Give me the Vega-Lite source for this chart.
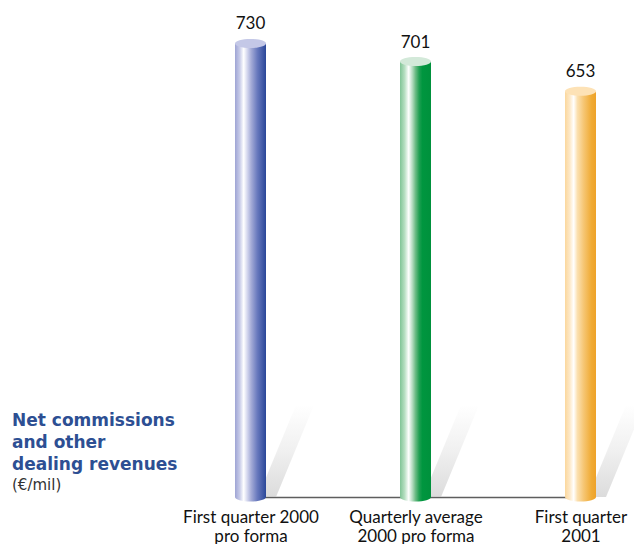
{
  "$schema": "https://vega.github.io/schema/vega-lite/v6.json",
  "autosize": {"type": "none"},
  "padding": {"left": 12, "top": 0, "right": 0, "bottom": 47},
  "width": 622,
  "height": 497,
  "background": "white",
  "title": {
    "text": ["Net commissions", "and other", "dealing revenues"],
    "subtitle": "(€/mil)",
    "anchor": "start",
    "orient": "top",
    "frame": "group",
    "dy": 498,
    "font": "DejaVu Sans",
    "fontSize": 17,
    "fontWeight": "bold",
    "color": "#2d4f93",
    "lineHeight": 22,
    "subtitleFont": "DejaVu Sans",
    "subtitleFontSize": 15,
    "subtitleColor": "#333333",
    "subtitlePadding": 4
  },
  "config": {"view": {"stroke": null}},
  "data": {
    "values": [
      {"period": "First quarter 2000 pro forma", "value": 730},
      {"period": "Quarterly average 2000 pro forma", "value": 701},
      {"period": "First quarter 2001", "value": 653}
    ]
  },
  "encoding": {
    "x": {
      "field": "period",
      "type": "nominal",
      "sort": null,
      "scale": {"type": "point", "range": [238.5, 568.5], "padding": 0},
      "axis": {
        "title": null,
        "ticks": false,
        "domain": true,
        "domainColor": "#5e5e5e",
        "domainWidth": 1.5,
        "labelAngle": 0,
        "labelFont": "Lato",
        "labelFontSize": 17,
        "labelColor": "#111111",
        "labelPadding": 12,
        "labelLineHeight": 19,
        "labelBaseline": "top",
        "labelExpr": "datum.value == 'First quarter 2000 pro forma' ? ['First quarter 2000', 'pro forma'] : datum.value == 'Quarterly average 2000 pro forma' ? ['Quarterly average', '2000 pro forma'] : ['First quarter', '2001']"
      }
    },
    "y": {
      "field": "value",
      "type": "quantitative",
      "scale": {"domain": [0, 800]},
      "axis": null
    }
  },
  "layer": [
    {
      "mark": {
        "type": "point",
        "shape": "M 0.15 0 L 0.51 0 L 1.27 -1.84 L 0.91 -1.84 Z",
        "size": 10000,
        "filled": true,
        "strokeWidth": 0,
        "opacity": 0.6,
        "fill": {"gradient": "linear", "x1": 0, "y1": 1, "x2": 0, "y2": 0,
          "stops": [{"offset": 0, "color": "#c4c4c4"}, {"offset": 0.5, "color": "#e6e6e6"}, {"offset": 1, "color": "#ffffff"}]}
      },
      "encoding": {"y": {"datum": 0}}
    },
    {
      "transform": [{"filter": "datum.value == 730"}],
      "layer": [
        {"mark": {"type": "bar", "width": 31, "fill": {"gradient": "linear", "x1": 0, "y1": 0, "x2": 1, "y2": 0,
          "stops": [{"offset": 0, "color": "#9ea4d4"}, {"offset": 0.15, "color": "#c6cae8"}, {"offset": 0.28, "color": "#ffffff"}, {"offset": 0.4, "color": "#d2d5ed"}, {"offset": 0.52, "color": "#a5acd7"}, {"offset": 0.72, "color": "#6879bd"}, {"offset": 1, "color": "#2a4799"}]}}},
        {"mark": {"type": "point", "shape": "M -1 0 A 1 0.29 0 0 0 1 0 Z", "size": 961, "filled": true, "opacity": 1, "strokeWidth": 0,
          "fill": {"gradient": "linear", "x1": 0, "y1": 0, "x2": 1, "y2": 0,
          "stops": [{"offset": 0, "color": "#9ea4d4"}, {"offset": 0.15, "color": "#c6cae8"}, {"offset": 0.28, "color": "#ffffff"}, {"offset": 0.4, "color": "#d2d5ed"}, {"offset": 0.52, "color": "#a5acd7"}, {"offset": 0.72, "color": "#6879bd"}, {"offset": 1, "color": "#2a4799"}]}},
          "encoding": {"y": {"datum": 0}}},
        {"mark": {"type": "point", "shape": "M -1 0 A 1 0.29 0 1 0 1 0 A 1 0.29 0 1 0 -1 0 Z", "size": 961, "filled": true, "opacity": 1, "strokeWidth": 0, "fill": "#c4c8e7"}}
      ]
    },
    {
      "transform": [{"filter": "datum.value == 701"}],
      "layer": [
        {"mark": {"type": "bar", "width": 31, "fill": {"gradient": "linear", "x1": 0, "y1": 0, "x2": 1, "y2": 0,
          "stops": [{"offset": 0, "color": "#80c496"}, {"offset": 0.15, "color": "#b7dfc2"}, {"offset": 0.28, "color": "#ffffff"}, {"offset": 0.4, "color": "#b3dbbf"}, {"offset": 0.5, "color": "#6bbb84"}, {"offset": 0.62, "color": "#1f9f52"}, {"offset": 0.72, "color": "#00963f"}, {"offset": 1, "color": "#00913c"}]}}},
        {"mark": {"type": "point", "shape": "M -1 0 A 1 0.29 0 0 0 1 0 Z", "size": 961, "filled": true, "opacity": 1, "strokeWidth": 0,
          "fill": {"gradient": "linear", "x1": 0, "y1": 0, "x2": 1, "y2": 0,
          "stops": [{"offset": 0, "color": "#80c496"}, {"offset": 0.15, "color": "#b7dfc2"}, {"offset": 0.28, "color": "#ffffff"}, {"offset": 0.4, "color": "#b3dbbf"}, {"offset": 0.5, "color": "#6bbb84"}, {"offset": 0.62, "color": "#1f9f52"}, {"offset": 0.72, "color": "#00963f"}, {"offset": 1, "color": "#00913c"}]}},
          "encoding": {"y": {"datum": 0}}},
        {"mark": {"type": "point", "shape": "M -1 0 A 1 0.29 0 1 0 1 0 A 1 0.29 0 1 0 -1 0 Z", "size": 961, "filled": true, "opacity": 1, "strokeWidth": 0, "fill": "#d3e9d9"}}
      ]
    },
    {
      "transform": [{"filter": "datum.value == 653"}],
      "layer": [
        {"mark": {"type": "bar", "width": 31, "fill": {"gradient": "linear", "x1": 0, "y1": 0, "x2": 1, "y2": 0,
          "stops": [{"offset": 0, "color": "#fbd79c"}, {"offset": 0.15, "color": "#fde8c6"}, {"offset": 0.28, "color": "#ffffff"}, {"offset": 0.4, "color": "#fbe0b0"}, {"offset": 0.6, "color": "#f6c674"}, {"offset": 0.85, "color": "#f0ab35"}, {"offset": 1, "color": "#eea229"}]}}},
        {"mark": {"type": "point", "shape": "M -1 0 A 1 0.29 0 0 0 1 0 Z", "size": 961, "filled": true, "opacity": 1, "strokeWidth": 0,
          "fill": {"gradient": "linear", "x1": 0, "y1": 0, "x2": 1, "y2": 0,
          "stops": [{"offset": 0, "color": "#fbd79c"}, {"offset": 0.15, "color": "#fde8c6"}, {"offset": 0.28, "color": "#ffffff"}, {"offset": 0.4, "color": "#fbe0b0"}, {"offset": 0.6, "color": "#f6c674"}, {"offset": 0.85, "color": "#f0ab35"}, {"offset": 1, "color": "#eea229"}]}},
          "encoding": {"y": {"datum": 0}}},
        {"mark": {"type": "point", "shape": "M -1 0 A 1 0.29 0 1 0 1 0 A 1 0.29 0 1 0 -1 0 Z", "size": 961, "filled": true, "opacity": 1, "strokeWidth": 0, "fill": "#fde2b6"}}
      ]
    },
    {
      "mark": {"type": "text", "baseline": "alphabetic", "dy": -14, "font": "Lato", "fontSize": 17, "color": "#111111"},
      "encoding": {"text": {"field": "value", "type": "quantitative"}}
    }
  ]
}
